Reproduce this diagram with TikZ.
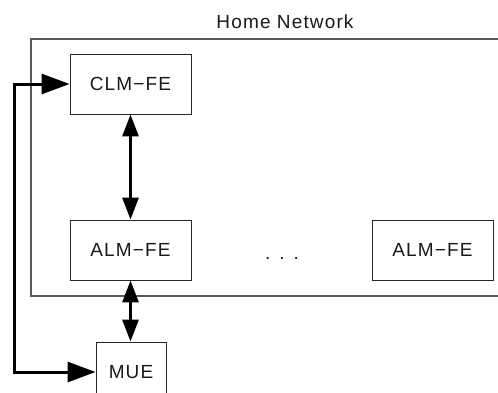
\documentclass[tikz,border=0pt]{standalone}
\usepackage{fontspec}
\setmainfont{Liberation Sans}[LetterSpace=6]
\usetikzlibrary{arrows.meta}
\begin{document}
\begin{tikzpicture}[x=1pt,y=-1pt,
  every node/.style={font=\fontsize{19}{22}\selectfont, text=black!90},
  febox/.style={draw=black!85, line width=0.9pt, minimum width=121pt, minimum height=60pt, inner sep=0pt},
  muebox/.style={draw=black!85, line width=0.9pt, minimum width=70pt, minimum height=60pt, inner sep=0pt},
  netbox/.style={draw=black!65, line width=1.3pt},
  varrow/.style={line width=3pt, {Triangle[length=22pt,width=16pt]}-{Triangle[length=22pt,width=16pt]}},
  harrow/.style={line width=3pt, miter limit=10, {Triangle[length=28pt,width=20pt]}-{Triangle[length=28pt,width=20pt]}}
]
\useasboundingbox (0,0) rectangle (498,392);
\clip (0,0) rectangle (498,392);
\draw[netbox] (31,39) rectangle (520,296);
\node[anchor=base] (title) at (285,28) {Home Network};
\node[febox] (clm) at (130.5,84) {CLM−FE};
\node[febox] (alm1) at (130.5,250) {ALM−FE};
\node[febox] (alm2) at (432.5,250) {ALM−FE};
\node[anchor=base] (dots) at (282,259) {.\hspace{9pt}.\hspace{9pt}.};
\node[muebox] (mue) at (131,372) {MUE};
\draw[varrow] (clm.south) -- (alm1.north);
\draw[varrow] (alm1.south) -- (alm1.south |- mue.north);
\coordinate (lt) at (14,84);
\draw[harrow] (clm.west) -- (lt) |- (mue.west);
\end{tikzpicture}
\end{document}
